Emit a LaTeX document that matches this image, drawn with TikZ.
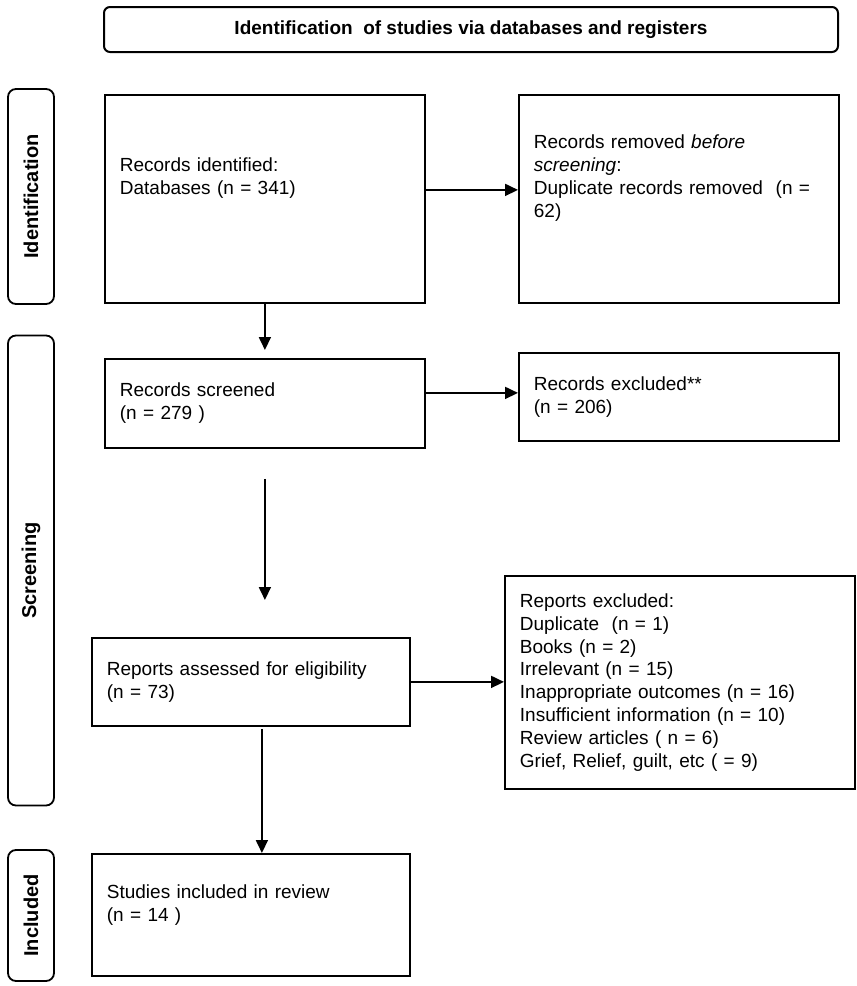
\documentclass[tikz,border=0pt]{standalone}
\usepackage{fontspec}
\setmainfont{Liberation Sans}
\usetikzlibrary{arrows.meta}

\tikzset{
  box/.style = {draw, line width = 0.9pt, anchor = north west, align = left,
    inner xsep = 7.5pt, inner ysep = 0pt, font = \fontsize{9.5}{11.4}\selectfont},
  phase/.style = {draw, line width = 0.9pt, rounded corners = 4pt, rotate = 90,
    minimum height = 23pt, inner sep = 0pt, font = \fontsize{10}{12}\selectfont\bfseries},
  arr/.style = {-{Triangle[length = 6.5pt, width = 6pt]}, line width = 0.9pt}
}

\begin{document}
\begin{tikzpicture}[x = 0.5pt, y = -0.5pt]
            \useasboundingbox (0,0) rectangle (857,986);
            \node[draw, line width = 1pt, rounded corners = 3pt, minimum width = 367pt, minimum height = 22.5pt,
              font = \fontsize{9.5}{11.4}\selectfont\bfseries] (head) at (471,29.5)
              {Identification\ \ of studies via databases and registers};
            \node[phase, minimum width = 107.5pt] (phaseId) at (31,196.5) {Identification};
            \node[phase, minimum width = 235pt] (phaseScr) at (31,570.5) {Screening};
            \node[phase, minimum width = 65.5pt] (phaseInc) at (31,915.5) {Included};
            \node[box, text width = 145pt, minimum height = 104pt] (ident) at (104,94)
              {Records identified:\\Databases (n = 341)\\\mbox{}\\\mbox{}};
            \node[box, text width = 145pt, minimum height = 104pt] (removed) at (518,94)
              {Records removed \textit{before}\\\textit{screening}:\\Duplicate records removed\ \ (n =\\62)\\\mbox{}\\\mbox{}};
            \node[box, text width = 145pt, minimum height = 44.5pt] (screened) at (104,358)
              {Records screened\\(n = 279 )};
            \node[box, text width = 145pt, minimum height = 44pt] (excluded) at (518,352)
              {Records excluded**\\(n = 206)};
            \node[box, text width = 144pt, minimum height = 44pt] (assessed) at (91,637)
              {Reports assessed for eligibility\\(n = 73)};
            \node[box, text width = 160pt, minimum height = 106.5pt] (repExcl) at (504,575)
              {Reports excluded:\\Duplicate\ \ (n = 1)\\Books (n = 2)\\Irrelevant (n = 15)\\Inappropriate outcomes (n = 16)\\Insufficient information (n = 10)\\Review articles ( n = 6)\\Grief, Relief, guilt, etc ( = 9)};
            \node[box, text width = 144pt, minimum height = 61pt] (included) at (91,853)
              {Studies included in review\\(n = 14 )\\\mbox{}};
            \coordinate (identOut) at ([yshift = 4.5pt]ident.east);
            \coordinate (scrOut) at ([yshift = 5.25pt]screened.east);
            \coordinate (assOut) at ([xshift = 5.5pt]assessed.south);
            \draw[arr] (identOut) -- (identOut -| removed.west);
            \draw[arr, shorten >= 4pt] (ident.south) -- (ident.south |- screened.north);
            \draw[arr] (scrOut) -- (scrOut -| excluded.west);
            \draw[arr, shorten <= 15pt, shorten >= 18.5pt] (screened.south) -- (screened.south |- assessed.north);
            \draw[arr] (assessed.east) -- (assessed.east -| repExcl.west);
            \draw[arr, shorten <= 1pt] (assOut) -- (assOut |- included.north);
        \end{tikzpicture}
\end{document}
